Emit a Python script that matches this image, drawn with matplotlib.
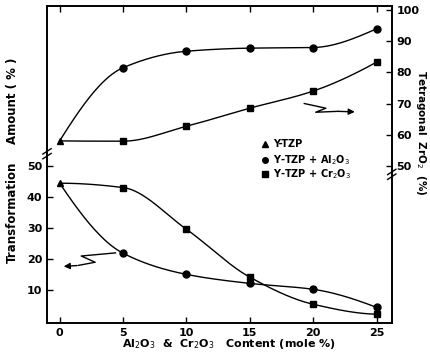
import numpy as np
import matplotlib.pyplot as plt

# x: additive content (mole %)
content = [0, 5, 10, 15, 20, 25]

# tetragonal ZrO2 (%) - upper curves (right axis)
tet_ytzp = [58.0]
tet_al = [58.0, 81.5, 86.8, 87.8, 88.0, 94.0]
tet_cr = [58.0, 57.9, 62.7, 68.5, 74.0, 83.3]

# transformation amount (%) - lower curves (left axis)
tr_ytzp = [44.4]
tr_al = [44.4, 21.9, 15.1, 12.2, 10.3, 4.5]
tr_cr = [44.4, 43.0, 29.6, 14.2, 5.5, 2.3]

left_ticks = [10, 20, 30, 40, 50]
right_ticks = [50, 60, 70, 80, 90, 100]


def end_slope(h0, h1, d0, d1):
    m = ((2 * h0 + h1) * d0 - h0 * d1) / (h0 + h1)
    if np.sign(m) != np.sign(d0):
        return 0.0
    if np.sign(d0) != np.sign(d1) and abs(m) > abs(3 * d0):
        return 3 * d0
    return m


def pchip(x, y, n=200):
    # monotone cubic curve through the points, only for drawing the line
    x = np.asarray(x, float)
    y = np.asarray(y, float)
    h = np.diff(x)
    d = np.diff(y) / h
    m = np.zeros_like(y)
    for i in range(1, len(y) - 1):
        if d[i - 1] * d[i] > 0:
            w1 = 2 * h[i] + h[i - 1]
            w2 = h[i] + 2 * h[i - 1]
            m[i] = (w1 + w2) / (w1 / d[i - 1] + w2 / d[i])
    m[0] = end_slope(h[0], h[1], d[0], d[1])
    m[-1] = end_slope(h[-1], h[-2], d[-1], d[-2])
    xs = np.linspace(x[0], x[-1], n)
    k = np.clip(np.searchsorted(x, xs) - 1, 0, len(h) - 1)
    t = (xs - x[k]) / h[k]
    h00 = 2 * t**3 - 3 * t**2 + 1
    h10 = t**3 - 2 * t**2 + t
    h01 = -2 * t**3 + 3 * t**2
    h11 = t**3 - t**2
    ys = h00 * y[k] + h10 * h[k] * m[k] + h01 * y[k + 1] + h11 * h[k] * m[k + 1]
    return xs, ys


plt.rcParams['font.family'] = 'DejaVu Sans'
fig = plt.figure(figsize=(4.31, 3.6), dpi=100)
ax = fig.add_axes([0.109, 0.103, 0.8, 0.88])

for yv in [tet_al, tet_cr, tr_al, tr_cr]:
    xs, ys = pchip(content, yv)
    ax.plot(xs, ys, color='black', lw=1.0)

ax.plot(content[1:], tet_al[1:], 'o', color='black', ms=5)
ax.plot(content[1:], tet_cr[1:], 's', color='black', ms=5)
ax.plot(content[1:], tr_al[1:], 'o', color='black', ms=5)
ax.plot(content[1:], tr_cr[1:], 's', color='black', ms=5)
ax.plot(content[:1], tet_ytzp, '^', color='black', ms=5)
ax.plot(content[:1], tr_ytzp, '^', color='black', ms=5)

ax.set_xlim(-1.0, 26.2)
ax.set_ylim(-0.5, 101.3)
ax.set_xticks(content)
ax.set_yticks(left_ticks)
ax.tick_params(direction='in', labelsize=8, width=1, length=4)
ax.tick_params(axis='x', top=True, labeltop=False)
for lab in ax.get_xticklabels() + ax.get_yticklabels():
    lab.set_fontweight('bold')

ax2 = ax.twinx()
ax2.set_ylim(ax.get_ylim())
ax2.set_yticks(right_ticks)
ax2.tick_params(direction='in', labelsize=8, width=1, length=4)
for lab in ax2.get_yticklabels():
    lab.set_fontweight('bold')

for sp in list(ax.spines.values()) + list(ax2.spines.values()):
    sp.set_linewidth(1.2)

# axis break marks
for xa, ya in [(0.0, 0.545), (1.0, 0.48)]:
    ax.plot([xa - 0.012, xa + 0.012], [ya - 0.012, ya + 0.005], transform=ax.transAxes,
            color='black', lw=1, clip_on=False)
    ax.plot([xa - 0.012, xa + 0.012], [ya - 0.027, ya - 0.010], transform=ax.transAxes,
            color='black', lw=1, clip_on=False)

# zigzag arrows
ax.plot([19.3, 21.0, 20.2, 22.0], [70.0, 68.5, 67.2, 67.5], color='black', lw=1)
ax.annotate('', xy=[23.5, 67.3], xytext=[21.8, 67.5],
            arrowprops=dict(arrowstyle='-|>', color='black', lw=1, mutation_scale=9))
ax.plot([4.4, 1.7, 2.8, 1.5], [22.0, 21.0, 19.0, 18.0], color='black', lw=1)
ax.annotate('', xy=[0.1, 17.6], xytext=[1.6, 18.0],
            arrowprops=dict(arrowstyle='-|>', color='black', lw=1, mutation_scale=9))

# legend
leg_y = [57.0, 51.8, 47.4]
leg_m = ['^', 'o', 's']
leg_t = ['Y-TZP', r'Y-TZP + Al$_2$O$_3$', r'Y-TZP + Cr$_2$O$_3$']
for yy, mk, tt in zip(leg_y, leg_m, leg_t):
    ax.plot([16.2], [yy], mk, color='black', ms=4, clip_on=False)
    ax.text(16.8, yy, tt, fontsize=7, fontweight='bold', va='center')

fig.text(0.028, 0.41, 'Transformation', rotation=90, ha='center', va='center',
         fontsize=8.5, fontweight='bold')
fig.text(0.028, 0.72, 'Amount ( % )', rotation=90, ha='center', va='center',
         fontsize=8.5, fontweight='bold')
fig.text(0.976, 0.63, r'Tetragonal  ZrO$_2$  (%)', rotation=-90, ha='center', va='center',
         fontsize=7.5, fontweight='bold')
fig.text(0.53, 0.045, r'Al$_2$O$_3$  &  Cr$_2$O$_3$   Content (mole %)', ha='center',
         va='center', fontsize=8, fontweight='bold')

fig.savefig('out.png', dpi=100)
